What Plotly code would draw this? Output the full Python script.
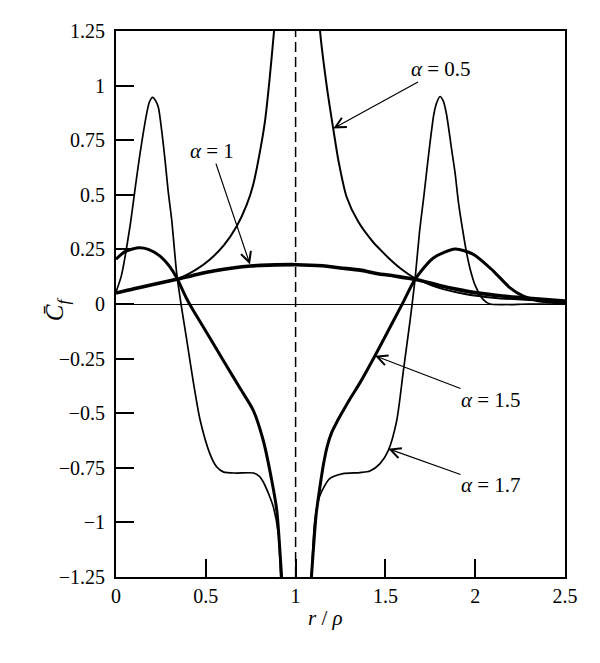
import plotly.graph_objects as go

# curve points (None splits the branches at r/rho = 1)
x_a05 = [0, 0.1, 0.2, 0.338, 0.45, 0.523, 0.6, 0.672, 0.728, 0.765, 0.802, 0.83, 0.854, 0.88, 0.9,
         None,
         1.12, 1.136, 1.173, 1.21, 1.24, 1.284, 1.35, 1.43, 1.47, 1.525, 1.581, 1.665, 1.75, 1.822,
         1.95, 2.1, 2.3, 2.5]
y_a05 = [0.05, 0.068, 0.088, 0.113, 0.16, 0.204, 0.268, 0.356, 0.455, 0.55, 0.70, 0.84, 1.02, 1.25, 1.45,
         None,
         1.45, 1.25, 1.0, 0.80, 0.65, 0.49, 0.375, 0.285, 0.25, 0.205, 0.165, 0.118, 0.088, 0.068,
         0.045, 0.029, 0.018, 0.012]

x_a1 = [0, 0.1, 0.2, 0.338, 0.45, 0.55, 0.65, 0.75, 0.85, 1.0, 1.15, 1.25, 1.36, 1.45, 1.55, 1.665,
        1.8, 1.9, 2.0, 2.15, 2.3, 2.5]
y_a1 = [0.05, 0.07, 0.088, 0.113, 0.135, 0.152, 0.165, 0.174, 0.178, 0.18, 0.175, 0.165, 0.155, 0.14,
        0.128, 0.113, 0.085, 0.067, 0.052, 0.037, 0.026, 0.014]

x_a15 = [0, 0.05, 0.124, 0.18, 0.245, 0.3, 0.338, 0.39, 0.42, 0.449, 0.523, 0.6, 0.69, 0.765, 0.82,
         0.867, 0.895, 0.922, 0.935,
         None,
         1.07, 1.088, 1.115, 1.135, 1.155, 1.175, 1.2, 1.23, 1.264, 1.31, 1.359, 1.442, 1.544, 1.6,
         1.665, 1.767, 1.888, 1.99, 2.101, 2.194, 2.268, 2.35, 2.5]
y_a15 = [0.205, 0.24, 0.257, 0.25, 0.219, 0.17, 0.12, 0.03, -0.015, -0.055, -0.156, -0.262, -0.385,
         -0.488, -0.625, -0.807, -0.944, -1.25, -1.45,
         None,
         -1.45, -1.25, -0.96, -0.84, -0.735, -0.655, -0.59, -0.54, -0.49, -0.425, -0.36, -0.237,
         -0.078, 0.01, 0.113, 0.211, 0.252, 0.227, 0.151, 0.074, 0.036, 0.015, 0.005]

x_a17 = [0, 0.03, 0.078, 0.11, 0.134, 0.171, 0.186, 0.204, 0.221, 0.236, 0.255, 0.273, 0.29, 0.31,
         0.338, 0.362, 0.393, 0.431, 0.468, 0.523, 0.56, 0.6, 0.672, 0.765, 0.8, 0.82, 0.85, 0.876,
         0.904, 0.917, 0.925,
         None,
         1.07, 1.088, 1.106, 1.134, 1.19, 1.264, 1.359, 1.414, 1.47, 1.516, 1.563, 1.6, 1.637, 1.665,
         1.69, 1.715, 1.74, 1.77, 1.787, 1.804, 1.822, 1.84, 1.87, 1.888, 1.906, 1.93, 1.953, 1.975,
         2.0, 2.045, 2.082, 2.3, 2.5]
y_a17 = [0.055, 0.13, 0.356, 0.55, 0.69, 0.873, 0.925, 0.946, 0.93, 0.90, 0.79, 0.66, 0.52, 0.386,
         0.14, 0.0, -0.16, -0.36, -0.53, -0.686, -0.745, -0.77, -0.774, -0.774, -0.79, -0.815, -0.87,
         -0.929, -1.051, -1.25, -1.45,
         None,
         -1.45, -1.25, -1.0, -0.88, -0.80, -0.777, -0.772, -0.765, -0.731, -0.671, -0.534, -0.306,
         -0.078, 0.113, 0.33, 0.5, 0.68, 0.87, 0.925, 0.95, 0.93, 0.87, 0.70, 0.60, 0.47, 0.34, 0.23,
         0.15, 0.085, 0.02, 0.0, 0.0, 0.0]

y_ticks = [-1.25, -1, -0.75, -0.5, -0.25, 0, 0.25, 0.5, 0.75, 1, 1.25]
y_ticktext = ["\u22121.25", "\u22121", "\u22120.75", "\u22120.5", "\u22120.25", "0",
              "0.25", "0.5", "0.75", "1", "1.25"]
x_ticks = [0, 0.5, 1, 1.5, 2, 2.5]
x_ticktext = ["0", "0.5", "1", "1.5", "2", "2.5"]

# label text, text centre, arrow head
labels = [
    ("<i>\u03b1</i> = 0.5", 1.808, 1.074, 1.21, 0.804),
    ("<i>\u03b1</i> = 1", 0.533, 0.70, 0.746, 0.181),
    ("<i>\u03b1</i> = 1.5", 2.088, -0.44, 1.442, -0.237),
    ("<i>\u03b1</i> = 1.7", 2.088, -0.83, 1.516, -0.663),
]

FONT = "Liberation Serif, Times New Roman, serif"

fig = go.Figure()

fig.add_trace(go.Scatter(x=[1, 1], y=[-1.25, 1.25], mode="lines",
                         line=dict(color="black", width=1.5, dash="10px,5px")))

curves = [(x_a05, y_a05, 2.0), (x_a1, y_a1, 3.6), (x_a15, y_a15, 3.0), (x_a17, y_a17, 1.7)]
for xs, ys, w in curves:
    fig.add_trace(go.Scatter(x=xs, y=ys, mode="lines", connectgaps=False,
                             line=dict(color="black", width=w, shape="spline", smoothing=0.7)))

for txt, tx, ty, hx, hy in labels:
    fig.add_annotation(x=hx, y=hy, ax=tx, ay=ty, axref="x", ayref="y", text=txt,
                       showarrow=True, arrowhead=5, arrowsize=1.7, arrowwidth=1.2,
                       arrowcolor="black", borderpad=0,
                       font=dict(family=FONT, size=21, color="black"))

# axis titles
fig.add_annotation(x=1.167, y=-0.1, xref="x", yref="paper", text="<i>r</i> / <i>\u03c1</i>",
                   showarrow=False, font=dict(family=FONT, size=21, color="black"))
fig.add_annotation(x=-0.171, y=0.49, xref="paper", yref="paper",
                   text="<i>C\u0304</i><sub><i>f</i></sub>", textangle=-90,
                   showarrow=False, font=dict(family=FONT, size=25, color="black"))

fig.update_xaxes(range=[0, 2.5], tickvals=x_ticks, ticktext=x_ticktext,
                 ticks="inside", ticklen=18, tickwidth=2, tickcolor="black",
                 showline=True, linecolor="black", linewidth=2, mirror=True,
                 showgrid=False, zeroline=False,
                 tickfont=dict(family=FONT, size=20, color="black"))
fig.update_yaxes(range=[-1.25, 1.25], tickvals=y_ticks, ticktext=y_ticktext,
                 ticks="inside", ticklen=18, tickwidth=2, tickcolor="black",
                 showline=True, linecolor="black", linewidth=2, mirror=True,
                 showgrid=False, zeroline=True, zerolinecolor="black", zerolinewidth=1,
                 ticklabelstandoff=5,
                 tickfont=dict(family=FONT, size=20, color="black"))

# the page body adds 8px, so margins are trimmed to keep the plot box in place
fig.update_layout(width=600, height=663, showlegend=False,
                  plot_bgcolor="white", paper_bgcolor="white",
                  margin=dict(l=108, r=43, t=21, b=94))

fig.write_html("out.html")
